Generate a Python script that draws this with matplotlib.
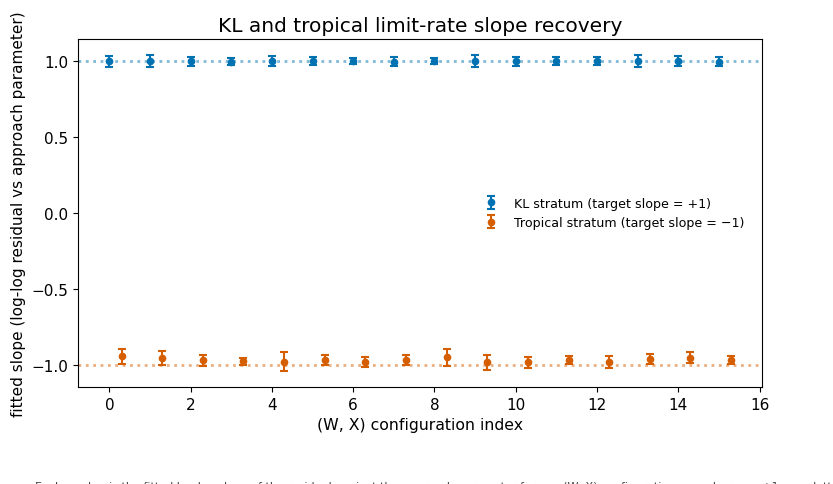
import numpy as np
import matplotlib
matplotlib.use("Agg")
import matplotlib.pyplot as plt

# configuration indices
config_idx = list(range(16))

# KL stratum: fitted slopes and errors (target +1)
kl_slope = [1.000, 1.002, 1.000, 0.999, 1.001, 1.000, 1.000, 0.999,
            1.000, 1.001, 1.000, 1.000, 1.000, 1.001, 1.000, 0.999]
kl_err = [0.038, 0.041, 0.030, 0.020, 0.033, 0.026, 0.020, 0.027,
          0.020, 0.041, 0.030, 0.026, 0.027, 0.041, 0.033, 0.030]

# Tropical stratum: fitted slopes and errors (target -1)
tr_slope = [-0.945, -0.956, -0.970, -0.978, -0.980, -0.970, -0.980, -0.968,
            -0.951, -0.984, -0.984, -0.967, -0.982, -0.960, -0.953, -0.970]
tr_err = [0.049, 0.045, 0.036, 0.026, 0.062, 0.033, 0.033, 0.030,
          0.055, 0.050, 0.036, 0.027, 0.041, 0.032, 0.035, 0.025]

BLUE = "#0072B2"
ORANGE = "#D55E00"

fig = plt.figure(figsize=(8.33, 4.85), dpi=100)
ax = fig.add_axes([0.094, 0.2, 0.821, 0.7175])

x_kl = np.array(config_idx, dtype=float)
x_tr = x_kl + 0.3

ax.errorbar(x_kl, kl_slope, yerr=kl_err, fmt="o", color=BLUE, ms=4.5,
            capsize=3, elinewidth=1.5, capthick=1.5,
            label="KL stratum (target slope = +1)")
ax.errorbar(x_tr, tr_slope, yerr=tr_err, fmt="o", color=ORANGE, ms=4.5,
            capsize=3, elinewidth=1.5, capthick=1.5,
            label="Tropical stratum (target slope = \u22121)")

ax.axhline(1.0, color=BLUE, ls=":", lw=2, alpha=0.5, zorder=0)
ax.axhline(-1.0, color=ORANGE, ls=":", lw=2, alpha=0.5, zorder=0)

ax.set_title("KL and tropical limit-rate slope recovery", fontsize=14.5)
ax.set_xlabel("(W, X) configuration index", fontsize=11.3)
ax.set_ylabel("fitted slope (log-log residual vs approach parameter)", fontsize=11)
ax.tick_params(labelsize=11)
ax.set_xticks(range(0, 17, 2))
ax.set_yticks([-1.0, -0.5, 0.0, 0.5, 1.0])

ax.legend(loc="center right", frameon=False, fontsize=9.1,
          bbox_to_anchor=(0.99, 0.5))

caption = ("Each marker is the fitted log-log slope of the residual against the approach "
           "parameter for one (W, X) configuration; error bars are \u00b11 s.e.; dotted lines mark the targets.")
fig.text(0.042, 1 - 482 / 485, caption, va="top", ha="left", fontsize=8, color="#444444")

fig.savefig("out.png", dpi=100)
